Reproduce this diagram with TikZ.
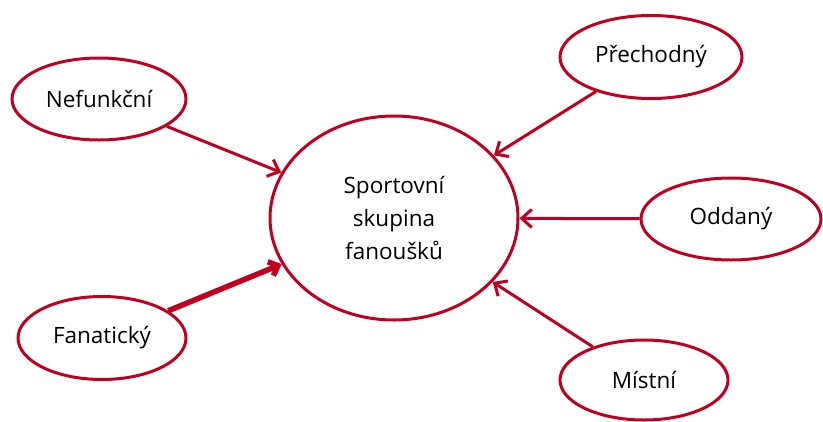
\documentclass[tikz,border=0pt]{standalone}
\usepackage{fontspec}
\setmainfont{Open Sans}
\usetikzlibrary{shapes.geometric,arrows.meta}
\definecolor{dred}{RGB}{192,0,30}
\begin{document}
\begin{tikzpicture}[x=1pt,y=-1pt,
 bub/.style={ellipse, draw=dred, line width=3pt, inner sep=0pt, fill=white,
   font=\fontsize{22.5}{33}\selectfont, text=black, align=center},
 link/.style={draw=dred, line width=3pt, -{Straight Barb[length=10pt,width=18pt]}},
 thicklink/.style={draw=dred, line width=5.5pt, -{Straight Barb[length=8pt,width=15pt]}}]
\useasboundingbox (0,0) rectangle (823,421);
\node[bub, minimum width=248, minimum height=204] (c) at (394,218) {Sportovní\\skupina\\fanoušků};
\node[bub, minimum width=174, minimum height=82] (nef) at (99,99) {Nefunkční};
\node[bub, minimum width=168, minimum height=83] (fan) at (102,338) {Fanatický};
\node[bub, minimum width=182, minimum height=83] (pre) at (651,57) {Přechodný};
\node[bub, minimum width=180, minimum height=82] (odd) at (731,219) {Oddaný};
\node[bub, minimum width=168, minimum height=80] (mis) at (644,380) {Místní};
\draw[link] (nef) -- (c);
\draw[thicklink] (fan) -- (c);
\draw[link] (pre) -- (c);
\draw[link] (odd) -- (c);
\draw[link] (mis) -- (c);
\end{tikzpicture}
\end{document}
